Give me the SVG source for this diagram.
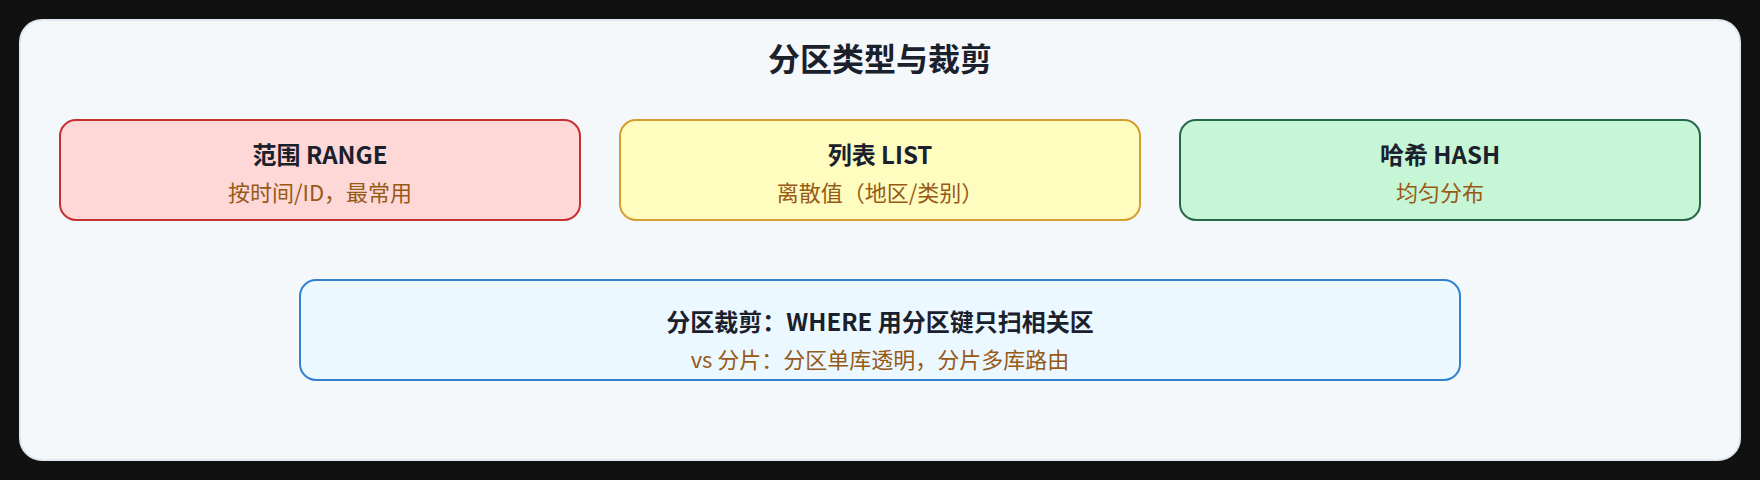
<svg xmlns="http://www.w3.org/2000/svg" width="1760" height="480" viewBox="0 0 1760 480">
<style>
.bg{fill:#111111}
.panel{fill:#f5f8fb;stroke:#e2e8f0;stroke-width:2}
.box{stroke-width:2}
text{font-family:"Noto Sans CJK SC","Noto Sans",sans-serif;text-anchor:middle}
.h{font-size:32px;font-weight:700;fill:#1a202c}
.t{font-size:24px;font-weight:700;fill:#1a202c}
.s{font-size:22px;fill:#975a16}
</style>
<rect class="bg" x="0" y="0" width="1760" height="480"/>
<rect class="panel" x="20" y="20" width="1720" height="440" rx="22"/>
<text class="h" x="880" y="71">分区类型与裁剪</text>
<g id="range">
<rect class="box" x="60" y="120" width="520" height="100" rx="16" fill="#fed7d7" stroke="#c53030"/>
<text class="t" x="320" y="164">范围 RANGE</text>
<text class="s" x="320" y="201">按时间/ID，最常用</text>
</g>
<g id="list">
<rect class="box" x="620" y="120" width="520" height="100" rx="16" fill="#fefcbf" stroke="#d69e2e"/>
<text class="t" x="880" y="164">列表 LIST</text>
<text class="s" x="880" y="201">离散值（地区/类别）</text>
</g>
<g id="hash">
<rect class="box" x="1180" y="120" width="520" height="100" rx="16" fill="#c6f6d5" stroke="#276749"/>
<text class="t" x="1440" y="164">哈希 HASH</text>
<text class="s" x="1440" y="201">均匀分布</text>
</g>
<g id="pruning">
<rect class="box" x="300" y="280" width="1160" height="100" rx="16" fill="#ebf8ff" stroke="#3182ce"/>
<text class="t" x="880" y="331">分区裁剪：WHERE 用分区键只扫相关区</text>
<text class="s" x="880" y="368">vs 分片：分区单库透明，分片多库路由</text>
</g>
<g id="connectors"/>
</svg>
